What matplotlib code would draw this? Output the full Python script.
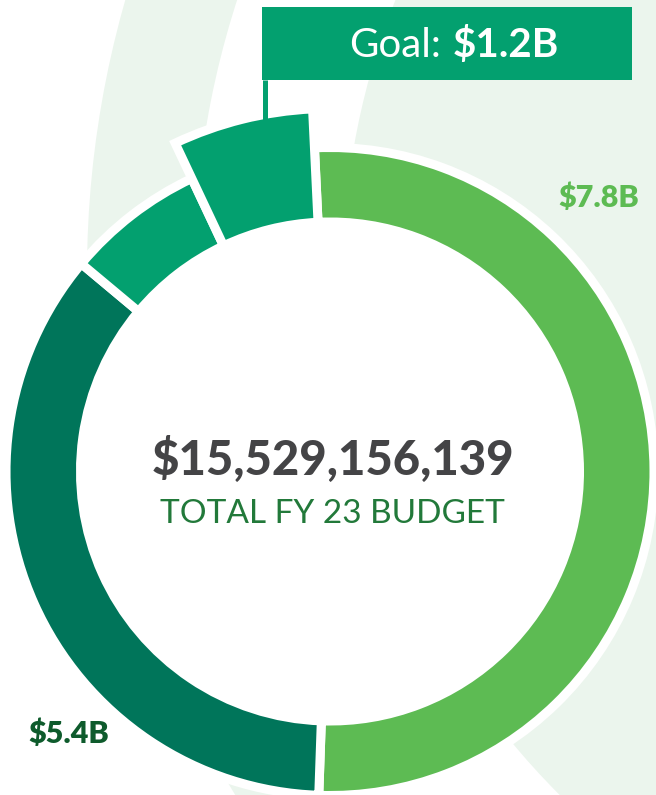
import numpy as np
import matplotlib.pyplot as plt
from matplotlib.patches import Circle, Wedge, Rectangle

# budget pieces in billions; the two unlabeled slices are estimated from their arcs
labels = ['Light', 'Dark', 'Other', 'Goal slice']
values = [7.8, 5.4, 1.05, 0.95]
colors = ['#5DBB53', '#00755A', '#03A06F', '#03A06F']
total_text = '$15,529,156,139'
subtitle = 'TOTAL FY 23 BUDGET'
light_label = '$7.8B'
dark_label = '$5.4B'
goal_label = '$1.2B'

W, H = 656, 795
cx, cy = 330, H - 471.5
r_out, ring_w = 324, 74.5
r_in = r_out - ring_w
goal_r = 363

fig = plt.figure(figsize=(W / 100, H / 100), dpi=100)
ax = fig.add_axes([0, 0, 1, 1])

# pale decorative arcs in the background
pale = '#EBF5ED'
bx, by = 1080, H - 273
ax.add_patch(Circle((bx, by), 737, color=pale, zorder=0, lw=0))
ax.add_patch(Wedge((bx, by), 993, 0, 360, width=107, color=pale, zorder=0, lw=0))
# white hole of the donut
ax.add_patch(Circle((cx, cy), r_in, color='white', zorder=0.5, lw=0))

wedges, _ = ax.pie(values, colors=colors, radius=r_out, center=(cx, cy),
                   startangle=92.75, counterclock=False, frame=True,
                   wedgeprops=dict(width=ring_w, edgecolor='white', linewidth=6.5))

# pull the goal slice outward
goal = wedges[3]
goal.set_radius(goal_r)
goal.set_width(goal_r - r_in)
goal.set_zorder(2)

# goal call-out box and leader line
box_x0, box_x1, box_y0, box_y1 = 262, 632, H - 80, H - 7
ax.add_patch(Rectangle((box_x0, box_y0), box_x1 - box_x0, box_y1 - box_y0,
                       color='#03A06F', lw=0, zorder=3))
lx = box_x0 + 3
ly = cy + np.sqrt((goal_r - 4) ** 2 - (lx - cx) ** 2)
ax.plot([lx, lx], [box_y0, ly - 2], color='#03A06F', lw=3.6, zorder=3,
        solid_capstyle='butt')
ax.text(441, H - 57, 'Goal:', ha='right', va='baseline', color='white',
        fontsize=29, family='Lato', zorder=4)
ax.text(453, H - 57, goal_label, ha='left', va='baseline', color='white',
        fontsize=29, family='Lato', weight='bold', zorder=4)

# centre text
ax.text(333, H - 475, total_text, ha='center', va='baseline', color='#444446',
        fontsize=34, family='Lato', weight='black', zorder=4)
ax.text(332, H - 523, subtitle, ha='center', va='baseline', color='#22793A',
        fontsize=24, family='Lato', zorder=4)

# slice labels
ax.text(599, H - 207, light_label, ha='center', va='baseline', color='#5DBB53',
        fontsize=22, family='Lato', weight='heavy', zorder=4)
ax.text(69, H - 743, dark_label, ha='center', va='baseline', color='#0E5B2C',
        fontsize=22, family='Lato', weight='heavy', zorder=4)

ax.set_xlim(0, W)
ax.set_ylim(0, H)
ax.set_aspect('equal')
ax.axis('off')
fig.savefig('out.png', dpi=100, facecolor='white')
